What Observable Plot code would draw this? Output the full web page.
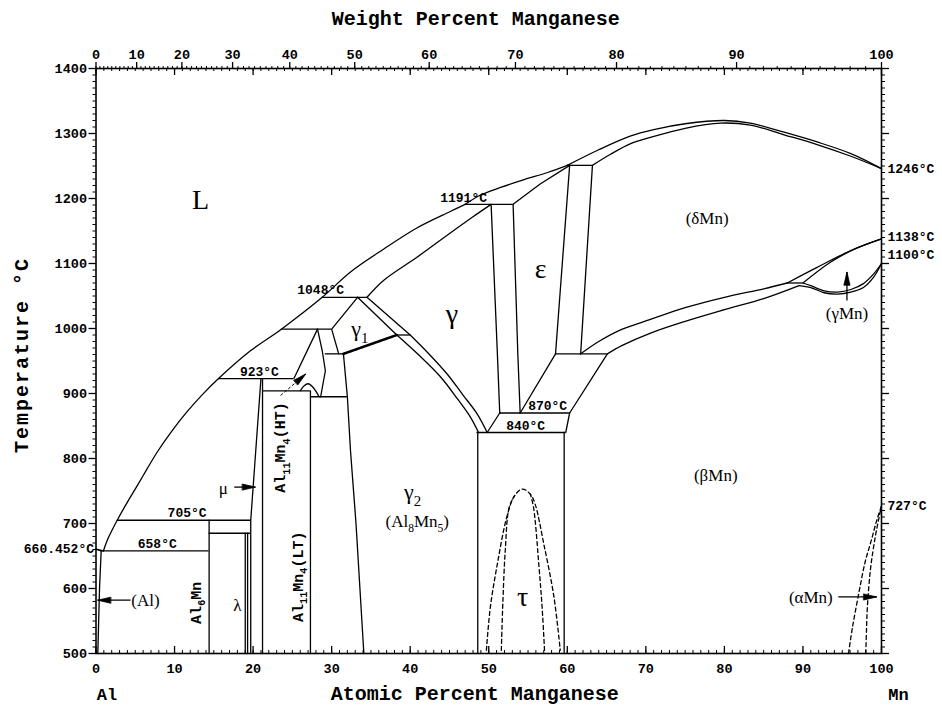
<!DOCTYPE html>
<html>
<head>
<meta charset="utf-8">
<script src="https://cdn.jsdelivr.net/npm/d3@7"></script>
<script src="https://cdn.jsdelivr.net/npm/@observablehq/plot@0.6"></script>
<style>
  body { margin: 0; background: #fff; }
  #chart svg { display: block; background: #fff; }
</style>
</head>
<body>
<div id="chart"></div>
<script>
// Al–Mn phase diagram: composition in atomic percent Mn (bottom) and
// weight percent Mn (top), temperature in °C.

const MASS_AL = 26.9815, MASS_MN = 54.938;
const wtToAt = w => 100 * (w / MASS_MN) / (w / MASS_MN + (100 - w) / MASS_AL);
const atToWt = a => 100 * a * MASS_MN / (a * MASS_MN + (100 - a) * MASS_AL);

// ---- tick values ----
const atMajor = d3.range(0, 101, 10);
const atMinor = d3.range(0, 101, 1);
const wtMajor = d3.range(0, 101, 10);
const wtMinor = d3.range(0, 101, 1);
const tMajor = d3.range(500, 1401, 100);
const tMinor = d3.range(500, 1401, 10);

// ---- phase boundaries: [at.% Mn, °C] ----
const liquidusAl = [[0, 660.452], [0.95, 658]];
const liquidusLow = [[0.95, 658], [1.5, 676], [2.7, 705], [4.0, 733], [5.2, 757], [6.5, 784], [7.8, 810], [9.7, 843], [11.6, 872], [13.6, 899], [15.6, 923], [19.7, 966], [23.6, 999], [28.8, 1048], [32.4, 1087], [36.6, 1122], [40.9, 1155], [45.1, 1180], [47.0, 1191]];
const liquidusMid = [[47.0, 1191], [48.9, 1205], [51.5, 1217], [54.5, 1229], [57.5, 1240], [60.0, 1251]];
const liquidusHigh = [[60.0, 1251], [64, 1275], [68, 1296], [71, 1306], [75, 1315], [80, 1320], [83.3, 1316], [87.6, 1302], [91.8, 1287], [96.1, 1269], [100, 1246]];
const gammaSolidus = [[34.5, 1048], [36.6, 1074], [40.9, 1110], [45.1, 1147], [48.0, 1172], [50.3, 1191]];
const deltaSolidus = [[63.2, 1251], [65.5, 1268], [68, 1284], [70.6, 1294], [75, 1308], [79.5, 1316], [83.3, 1313], [87.6, 1298], [91.8, 1283], [96.1, 1265], [100, 1246]];
const gamma2Outer = [[40.0, 990], [42.3, 962], [44.7, 930], [46.7, 898], [48.5, 869], [49.8, 840]];
const gamma2Inner = [[38.3, 990], [41.2, 958], [43.9, 925], [46.0, 892], [47.7, 863], [48.7, 840]];
const betaDeltaUpper = [[61.7, 961], [64, 980], [67, 999], [70.6, 1014], [75, 1032], [80, 1048], [85, 1061], [88, 1070]];
const betaDeltaLower = [[65.1, 961], [67, 974], [70.6, 993], [75, 1011], [80, 1029], [85, 1046], [89.5, 1066]];
const deltaGammaUpper = [[88, 1070], [91.8, 1094], [96.1, 1120], [100, 1138]];
const deltaGammaLower = [[90, 1070], [93.5, 1102], [96.9, 1124], [100, 1138]];
const gammaBetaUpper = [[90, 1070], [91, 1066], [92.7, 1058], [94.4, 1056], [96.1, 1060], [97.7, 1069], [99, 1084], [100, 1100]];
const gammaBetaLower = [[89.5, 1066], [91, 1063], [92.7, 1055], [94.4, 1053], [96.1, 1056], [97.7, 1063], [99, 1079], [100, 1100]];
const htArch = [[26.0, 904], [26.5, 912], [27.0, 915], [27.6, 910], [28.4, 895]];

// straight boundaries
const alSolidus = [[0, 660.452], [0.66, 658]];
const alSolvus = [[0.66, 658], [0.45, 600], [0.23, 500]];
const al6Mn = [[14.4, 705], [14.4, 500]];
const lambdaLeft = [[19.0, 685], [19.0, 500]];
const lambdaRight = [[19.3, 685], [19.3, 500]];
const muLeft = [[19.7, 500], [19.7, 705], [21.0, 923]];
const muRight = [[21.2, 923], [21.2, 500]];
const al11Mn4LT = [[27.3, 904], [27.3, 500]];
const htLeft = [[28.2, 999], [25.2, 923]];
const htRight = [[28.2, 999], [28.8, 966], [29.2, 935], [28.6, 895]];
const gamma1Left = [[33.3, 1048], [30.0, 999], [30.9, 961]];
const gamma1Right = [[33.3, 1048], [38.3, 990]];
const gammaLeft = [[34.5, 1048], [40.0, 990]];
const gamma2Left = [[31.5, 961], [32.0, 895], [32.4, 812], [33.1, 700], [34.1, 500]];
const gammaEps1 = [[50.3, 1191], [51.1, 961], [51.4, 870]];
const gammaEps2 = [[53.1, 1191], [53.7, 961], [54.0, 870]];
const epsSolidus = [[53.1, 1191], [56.5, 1222], [60.3, 1251]];
const epsRight = [[60.3, 1251], [58.5, 961]];
const deltaLeft = [[63.2, 1251], [61.7, 961]];
const epsBeta = [[58.5, 961], [54.0, 870]];
const deltaBeta = [[65.1, 961], [60.3, 870]];
const tauTopLeft = [[51.4, 870], [49.8, 840]];
const tauTopRight = [[60.3, 870], [59.8, 840]];
const tauBoxLeft = [[48.6, 840], [48.6, 500]];
const tauBoxRight = [[59.6, 840], [59.6, 500]];
const gamma1Bottom = [[31.5, 961], [38.3, 990]];

// dashed boundaries
const tauOuter = [[49.7, 505], [50.2, 571], [51.1, 638], [52.3, 710], [53.3, 743], [54.3, 753], [55.3, 745], [55.9, 730], [57.0, 669], [58.3, 587], [59.1, 505]];
const tauInnerLeft = [[51.6, 505], [51.8, 580], [52.1, 658], [52.6, 725], [53.3, 743]];
const tauInnerRight = [[57.1, 505], [56.8, 570], [56.4, 633], [55.7, 725], [55.3, 745]];
const alphaOuter = [[95.8, 500], [96.3, 540], [97.1, 592], [97.9, 640], [98.7, 674], [99.4, 705], [100, 727]];
const alphaInner = [[98.0, 500], [98.1, 540], [98.2, 571], [98.6, 630], [99.2, 679], [99.7, 710], [100, 727]];

// invariant temperatures: T, from, to (at.% Mn)
const isoT = [658, 705, 685, 923, 904, 895, 999, 961, 1048, 990, 1191, 1251, 961, 870, 840, 1070];
const isoFrom = [0.66, 2.7, 14.4, 15.6, 21.2, 27.3, 23.6, 29.2, 28.8, 38.3, 47.0, 60.0, 58.5, 51.4, 48.5, 88];
const isoTo = [14.4, 19.7, 19.7, 25.2, 27.3, 32.0, 30.0, 31.5, 34.5, 40.0, 53.1, 63.2, 65.1, 60.3, 59.8, 90];

// ---- labels ----
const tempText = ["705°C", "658°C", "923°C", "1048°C", "1191°C", "870°C", "840°C"];
const tempX = [11.6, 7.8, 20.8, 28.6, 46.8, 57.5, 54.7];
const tempT = [705, 658, 923, 1048, 1191, 870, 840];
const tempAnchor = ["middle", "middle", "middle", "end", "end", "middle", "middle"];

const edgeText = ["1246°C", "1138°C", "1100°C", "727°C"];
const edgeT = [1246, 1138, 1100, 727];
const edgeLift = [0, 2, 9, 0];

const bigGreek = ["L", "γ", "ε", "τ"];
const bigGreekX = [13.3, 45.3, 56.6, 54.3];
const bigGreekT = [1197, 1022, 1092, 587];

const subGreek = ["γ{1}", "γ{2}"];
const subGreekX = [33.6, 40.3];
const subGreekT = [999, 748];

const phaseText = ["(Al{8}Mn{5})", "(δMn)", "(γMn)", "(βMn)", "(αMn)", "(Al)", "λ", "μ"];
const phaseX = [40.9, 77.8, 95.6, 78.9, 91.0, 6.3, 18.0, 16.2];
const phaseT = [703, 1169, 1023, 774, 586, 582, 574, 754];

const compoundText = ["Al{6}Mn", "Al{11}Mn{4}(HT)", "Al{11}Mn{4}(LT)"];
const compoundX = [12.7, 23.5, 25.7];
const compoundT = [578, 817, 618];

// pointer arrows: tail and tip
const arrowX1 = [4.4, 17.6, 94.5, 95.6];
const arrowT1 = [582, 756, 587, 1043];
const arrowX2 = [0.2, 20.3, 99.4, 95.6];
const arrowT2 = [582, 756, 587, 1087];
const arrowDir = [-90, 90, 90, 0];
const htPointer = [[23.5, 897], [26.7, 930]];

// ---- build mark tables ----
const toRows = (obj) => Object.entries(obj).flatMap(([id, pts]) => pts.map(([x, y]) => ({id, x, y})));

const smoothRows = toRows({liquidusLow, liquidusMid, liquidusHigh, gammaSolidus, deltaSolidus,
  gamma2Outer, gamma2Inner, betaDeltaUpper, betaDeltaLower, deltaGammaUpper, deltaGammaLower,
  gammaBetaUpper, gammaBetaLower, htArch});
const straightRows = toRows({liquidusAl, alSolidus, alSolvus, al6Mn, lambdaLeft, lambdaRight, muLeft, muRight,
  al11Mn4LT, htLeft, htRight, gamma1Left, gamma1Right, gammaLeft, gamma2Left, gammaEps1, gammaEps2,
  epsSolidus, epsRight, deltaLeft, epsBeta, deltaBeta, tauTopLeft, tauTopRight, tauBoxLeft, tauBoxRight});
const dashedRows = toRows({tauOuter, tauInnerLeft, tauInnerRight, alphaOuter, alphaInner});
const hatchRows = toRows({gamma1Bottom});
const isoRows = isoT.map((T, i) => ({T, x1: isoFrom[i], x2: isoTo[i]}));

const tempRows = tempText.map((text, i) => ({text, x: tempX[i], y: tempT[i], anchor: tempAnchor[i]}));
const edgeRows = edgeText.map((text, i) => ({text, y: edgeT[i], lift: edgeLift[i]}));
const greekRows = bigGreek.map((text, i) => ({text, x: bigGreekX[i], y: bigGreekT[i]}));
const subGreekRows = subGreek.map((text, i) => ({text, x: subGreekX[i], y: subGreekT[i]}));
const phaseRows = phaseText.map((text, i) => ({text, x: phaseX[i], y: phaseT[i]}));
const compoundRows = compoundText.map((text, i) => ({text, x: compoundX[i], y: compoundT[i]}));
const arrowRows = arrowX1.map((x1, i) => ({x1, y1: arrowT1[i], x2: arrowX2[i], y2: arrowT2[i], dir: arrowDir[i]}));

const mono = "'Liberation Mono', 'DejaVu Sans Mono', monospace";
const serif = "'Liberation Serif', 'DejaVu Serif', serif";

// filled, narrow arrowhead drawn with its tip at the vector's end
const headShape = {
  draw(context, l, r) {
    context.moveTo(-r, 0);
    context.lineTo(0, -l);
    context.lineTo(r, 0);
    context.closePath();
  }
};

const frameH = 707 - 68 - 54;

const plot = Plot.plot({
  width: 942,
  height: 707,
  marginLeft: 95.5,
  marginRight: 61,
  marginTop: 68,
  marginBottom: 54,
  x: {domain: [0, 100]},
  y: {domain: [500, 1400]},
  style: {fontFamily: mono, background: "#fff", color: "#000"},
  marks: [
    // phase boundaries
    Plot.line(smoothRows, {x: "x", y: "y", z: "id", curve: "catmull-rom", stroke: "#000", strokeWidth: 1.3}),
    Plot.line(straightRows, {x: "x", y: "y", z: "id", stroke: "#000", strokeWidth: 1.3}),
    Plot.line(dashedRows, {x: "x", y: "y", z: "id", curve: "catmull-rom", stroke: "#000", strokeWidth: 1.3, strokeDasharray: "4,3"}),
    Plot.line(hatchRows, {x: "x", y: "y", z: "id", stroke: "#000", strokeWidth: 2.6, strokeDasharray: "1.2,0.8"}),
    Plot.ruleY(isoRows, {y: "T", x1: "x1", x2: "x2", stroke: "#000", strokeWidth: 1.3}),

    // pointers
    Plot.link(arrowRows, {x1: "x1", y1: "y1", x2: "x2", y2: "y2", stroke: "#000", strokeWidth: 1.3}),
    Plot.vector(arrowRows, {x: "x2", y: "y2", rotate: "dir", length: 13, r: 3, anchor: "end", shape: headShape, fill: "#000", stroke: "#000", strokeWidth: 0.8}),
    Plot.link([htPointer], {x1: d => d[0][0], y1: d => d[0][1], x2: d => d[1][0], y2: d => d[1][1], stroke: "#000", strokeWidth: 1, strokeDasharray: "3,2"}),
    Plot.vector([htPointer], {x: d => d[1][0], y: d => d[1][1], rotate: 49, length: 13, r: 3, anchor: "end", shape: headShape, fill: "#000", stroke: "#000", strokeWidth: 0.8}),

    // frame and axes
    Plot.frame({stroke: "#000", strokeWidth: 1.6}),
    Plot.axisX({anchor: "bottom", ticks: atMajor, tickSize: 0, tickPadding: 10, fontSize: 13.5, fontWeight: "bold", tickFormat: d => String(d)}),
    Plot.tickX(atMinor, {x: d => d, insetTop: frameH - 3, strokeWidth: 1}),
    Plot.tickX(atMajor, {x: d => d, insetTop: frameH - 7, strokeWidth: 1.3}),
    Plot.tickX(atMinor, {x: d => d, insetBottom: frameH - 3, strokeWidth: 1}),
    Plot.tickX(atMajor, {x: d => d, insetBottom: frameH - 7, strokeWidth: 1.3}),
    Plot.axisX({anchor: "top", ticks: wtMajor.map(wtToAt), tickSize: 7, tickPadding: 3, strokeWidth: 1.3, fontSize: 13.5, fontWeight: "bold", tickFormat: d => String(Math.round(atToWt(d)))}),
    Plot.axisX({anchor: "top", ticks: wtMinor.map(wtToAt), tickSize: 3, fill: "none"}),
    Plot.axisY({anchor: "left", ticks: tMajor, tickSize: 7, tickPadding: 2, strokeWidth: 1.3, fontSize: 13.5, fontWeight: "bold", tickFormat: d => String(d)}),
    Plot.axisY({anchor: "left", ticks: tMinor, tickSize: 3, fill: "none"}),
    Plot.axisY({anchor: "right", ticks: tMajor, tickSize: 7, strokeWidth: 1.3, fill: "none"}),
    Plot.axisY({anchor: "right", ticks: tMinor, tickSize: 3, fill: "none"}),

    // axis titles
    Plot.text(["Weight Percent Manganese"], {frameAnchor: "top", lineAnchor: "middle", dy: -50, dx: -13, fontSize: 20, fontWeight: "bold", fontFamily: mono}),
    Plot.text(["Atomic Percent Manganese"], {frameAnchor: "bottom", lineAnchor: "middle", dy: 40, dx: -14, fontSize: 20, fontWeight: "bold", fontFamily: mono}),
    Plot.text(["Temperature °C"], {frameAnchor: "left", textAnchor: "middle", lineAnchor: "middle", dx: -74, dy: -5, rotate: -90, fontSize: 20, fontWeight: "bold", fontFamily: mono, className: "ytitle"}),
    Plot.text(["Al"], {x: 0, frameAnchor: "bottom", lineAnchor: "middle", dy: 41, dx: 11, fontSize: 17, fontWeight: "bold", fontFamily: mono}),
    Plot.text(["Mn"], {x: 100, frameAnchor: "bottom", lineAnchor: "middle", dy: 41, dx: 17, fontSize: 17, fontWeight: "bold", fontFamily: mono}),

    // invariant temperatures
    Plot.text(tempRows, {x: "x", y: "y", text: "text", textAnchor: d => d.anchor, dy: -7, fontSize: 13, fontWeight: "bold", fontFamily: mono}),
    Plot.text(edgeRows, {x: 100, y: "y", text: "text", textAnchor: "start", dx: 6, fontSize: 13, fontWeight: "bold", fontFamily: mono, filter: d => d.lift === 0}),
    Plot.text(edgeRows, {x: 100, y: "y", text: "text", textAnchor: "start", dx: 6, dy: -2, fontSize: 13, fontWeight: "bold", fontFamily: mono, filter: d => d.lift === 2}),
    Plot.text(edgeRows, {x: 100, y: "y", text: "text", textAnchor: "start", dx: 6, dy: -9, fontSize: 13, fontWeight: "bold", fontFamily: mono, filter: d => d.lift === 9}),
    Plot.text(["660.452°C"], {x: 0, y: 660.452, textAnchor: "end", dx: -2, fontSize: 13, fontWeight: "bold", fontFamily: mono}),

    // phase fields
    Plot.text(greekRows, {x: "x", y: "y", text: "text", fontSize: 28, fontFamily: serif}),
    Plot.text(subGreekRows, {x: "x", y: "y", text: "text", fontSize: 22, fontFamily: serif}),
    Plot.text(phaseRows, {x: "x", y: "y", text: "text", fontSize: 17, fontFamily: serif}),
    Plot.text(compoundRows, {x: "x", y: "y", text: "text", rotate: -90, fontSize: 15, fontWeight: "bold", fontFamily: mono})
  ]
});

document.getElementById("chart").appendChild(plot);

// the rotated temperature title is set to its full length
d3.select(plot).selectAll("g.ytitle text").attr("textLength", 194).attr("lengthAdjust", "spacing");

// turn {…} runs inside label text into subscripts
d3.select(plot).selectAll("text").each(function () {
  const content = this.textContent;
  if (!content.includes("{")) return;
  const size = parseFloat(getComputedStyle(this).fontSize) || 16;
  const shift = size * 0.3;
  const el = d3.select(this);
  el.text(null);
  let lowered = false;
  for (const part of content.split(/(\{[^}]*\})/)) {
    if (!part) continue;
    if (part.startsWith("{")) {
      el.append("tspan").attr("dy", lowered ? 0 : shift).attr("font-size", size * 0.68).text(part.slice(1, -1));
      lowered = true;
    } else {
      el.append("tspan").attr("dy", lowered ? -shift : 0).text(part);
      lowered = false;
    }
  }
});
</script>
</body>
</html>
